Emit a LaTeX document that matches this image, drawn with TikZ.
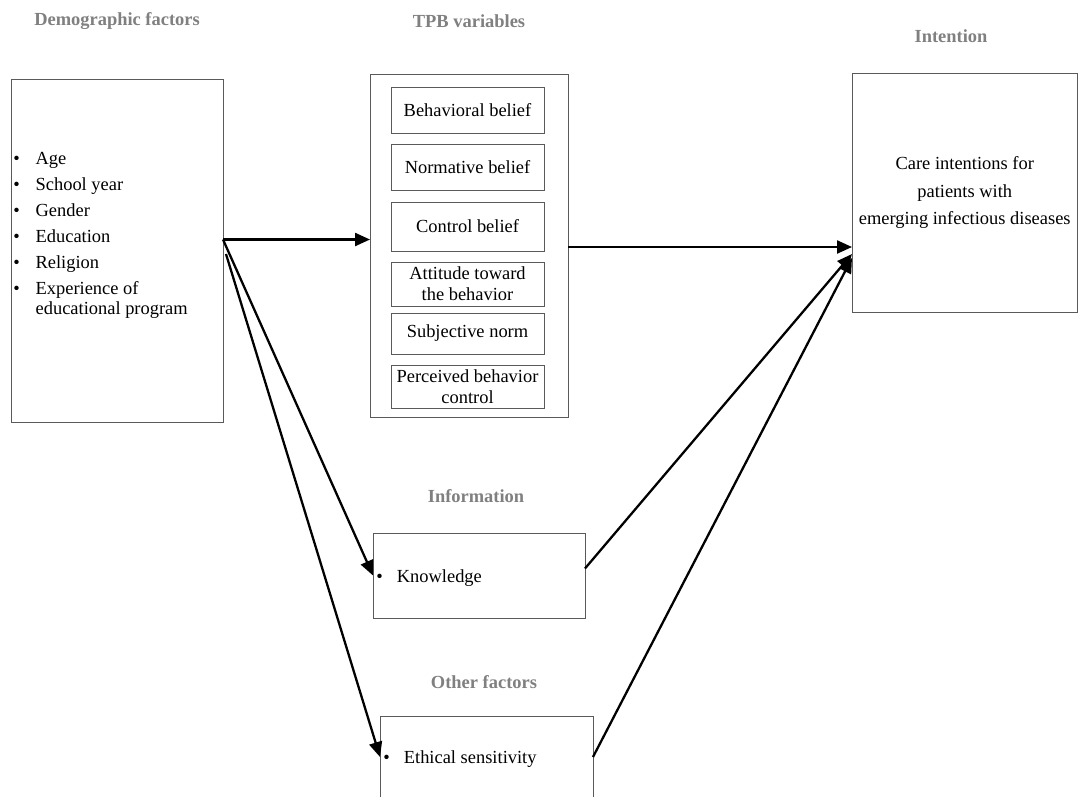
\documentclass[tikz,border=0pt]{standalone}
\usepackage{fontspec}
\setmainfont{Liberation Serif}
\usetikzlibrary{arrows.meta}
\definecolor{headgray}{RGB}{128,128,128}
\definecolor{boxgray}{RGB}{90,90,90}

\begin{document}
\begin{tikzpicture}[x=0.02cm,y=-0.02cm,
    every node/.style={font=\fontsize{10.5}{12}\selectfont},
    box/.style={draw=boxgray,line width=0.5pt,inner sep=0pt,outer sep=0pt},
    inbox/.style={box,minimum width=3.06cm,align=center,font=\fontsize{10.5}{11.9}\selectfont},
    head/.style={text=headgray,font=\fontsize{10.5}{12}\selectfont\bfseries},
    arr/.style={line width=1.3pt,-{Triangle[length=0.3cm,width=0.26cm]}}]
        \clip (0,0) rectangle (1079,796);
        % headings
        \node[head] (hdemo) at (117,21) {Demographic factors};
        \node[head] (htpb) at (469,21) {TPB variables};
        \node[head] (hint) at (951,36) {Intention};
        \node[head] (hinfo) at (476,496) {Information};
        \node[head] (hother) at (484,682) {Other factors};
        % boxes
        \node[box,minimum width=4.24cm,minimum height=6.86cm] (demo) at (117,250.5) {};
        \node[anchor=base west,inner sep=0pt] (demolist) at (13,164) {%
            \fontsize{10.5}{11.5}\selectfont
            \begin{tabular}[t]{@{}l@{\hspace{9pt}}l@{}}
            \textbullet & Age\\[3.3pt]
            \textbullet & School year\\[3.3pt]
            \textbullet & Gender\\[3.3pt]
            \textbullet & Education\\[3.3pt]
            \textbullet & Religion\\[3.3pt]
            \textbullet & Experience of\\
                        & educational program
            \end{tabular}};
        \node[box,minimum width=3.96cm,minimum height=6.86cm] (tpb) at (469,245.5) {};
        \node[inbox,minimum height=0.92cm] (beh) at (467.5,110) {Behavioral belief};
        \node[inbox,minimum height=0.92cm] (norm) at (467.5,167) {Normative belief};
        \node[inbox,minimum height=0.98cm] (ctrl) at (467.5,226.5) {Control belief};
        \node[inbox,minimum height=0.88cm] (att) at (467.5,284) {Attitude toward\\the behavior};
        \node[inbox,minimum height=0.82cm] (subj) at (467.5,333.5) {Subjective norm};
        \node[inbox,minimum height=0.86cm] (perc) at (467.5,386.5) {Perceived behavior\\control};
        \node[box,minimum width=4.51cm,minimum height=4.78cm,align=center,
              font=\fontsize{10.5}{15.9}\selectfont] (intent) at (964.75,192.5)
              {Care intentions for\\patients with\\emerging infectious diseases};
        \node[box,minimum width=4.24cm,minimum height=1.7cm] (know) at (479,575.5) {};
        \node[anchor=base west,inner sep=0pt] (knowtxt) at (376,582) {\textbullet\hspace{8pt}Knowledge};
        \node[box,minimum width=4.26cm,minimum height=1.64cm] (ethic) at (486.5,757) {};
        \node[anchor=base west,inner sep=0pt] (ethictxt) at (383,763) {\textbullet\hspace{8pt}Ethical sensitivity};
        % connectors
        \coordinate (demoA) at (223,239.5);
        \coordinate (demoB) at (226,254);
        \coordinate (intA) at (852,254);
        \coordinate (intB) at (852,258);
        \draw[arr] (demoA) -- (demoA -| tpb.west);
        \draw[arr] (demoA) -- (know.west);
        \draw[arr] (demoB) -- (ethic.west);
        \draw[arr] ([yshift=-0.03cm]tpb.east) -- ([yshift=-0.03cm]tpb.east -| intent.west);
        \draw[arr] ([yshift=0.14cm]know.east) -- (intA);
        \draw[arr] (ethic.east) -- (intB);
    \end{tikzpicture}
\end{document}
